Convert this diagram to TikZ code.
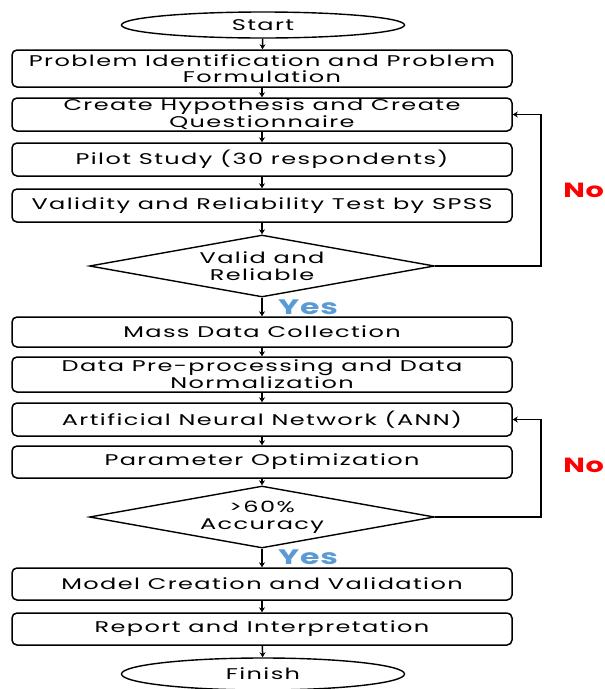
\documentclass[tikz,border=0pt]{standalone}
\usepackage{fontspec}
\setmainfont[LetterSpace=9,FakeStretch=1.55]{Poppins}
\newfontfamily\labfont[FakeStretch=1.5,LetterSpace=4]{Poppins}
\newfontfamily\nofont[FakeStretch=1.4,LetterSpace=3]{Poppins}
\usetikzlibrary{shapes.geometric,arrows.meta}
\definecolor{yesblue}{RGB}{91,155,213}
\definecolor{nored}{RGB}{255,0,0}
\tikzset{
  txt/.style={font=\fontsize{15.5}{15.5}\selectfont},
  stepbox/.style={draw, line width=1.5pt, rounded corners=5pt, minimum width=500pt, align=center, inner sep=0pt, txt},
  term/.style={draw, line width=1.4pt, ellipse, minimum width=283pt, inner sep=0pt, txt},
  decide/.style={draw, line width=1.4pt, diamond, shape aspect=5.5, minimum width=345pt, minimum height=62pt, inner sep=0pt, align=center, font=\fontsize{15.5}{17}\selectfont},
  arr/.style={line width=1.5pt, -{Stealth[length=5pt,width=6pt]}},
  yeslab/.style={font=\labfont\fontsize{21}{21}\bfseries\selectfont, text=yesblue, inner sep=0pt},
  nolab/.style={font=\nofont\fontsize{20.5}{20.5}\bfseries\selectfont, text=nored, inner sep=0pt, anchor=east}
}
\begin{document}
\begin{tikzpicture}[x=1pt,y=-1pt]
\useasboundingbox (0,0) rectangle (605,689);
\node[term, minimum height=26pt] (start) at (263,25) {Start};
\node[stepbox, minimum height=37pt] (b1) at (262,68.5) {Problem Identification and Problem\\Formulation};
\node[stepbox, minimum height=33pt] (b2) at (262,114.5) {Create Hypothesis and Create\\Questionnaire};
\node[stepbox, minimum height=33pt] (b3) at (262,159.5) {Pilot Study (30 respondents)};
\node[stepbox, minimum height=33pt] (b4) at (262,205.5) {Validity and Reliability Test by SPSS};
\node[decide] (d1) at (262,266) {Valid and\\Reliable};
\node[stepbox, minimum height=30pt] (b5) at (262,332) {Mass Data Collection};
\node[stepbox, minimum height=35pt] (b6) at (262,374.5) {Data Pre-processing and Data\\Normalization};
\node[stepbox, minimum height=33pt] (b7) at (262,419.5) {Artificial Neural Network (ANN)};
\node[stepbox, minimum height=32pt] (b8) at (262,462) {Parameter Optimization};
\node[decide] (d2) at (262,517) {>60\%\\Accuracy};
\node[stepbox, minimum height=32pt] (b9) at (262,584) {Model Creation and Validation};
\node[stepbox, minimum height=32pt] (b10) at (262,629) {Report and Interpretation};
\node[term, minimum height=32pt] (finish) at (263,674) {Finish};

\draw[arr] (start) -- (b1);
\draw[arr] (b1) -- (b2);
\draw[arr] (b2) -- (b3);
\draw[arr] (b3) -- (b4);
\draw[arr] (b4) -- (d1);
\draw[arr] (d1) -- (b5);
\draw[arr] (b5) -- (b6);
\draw[arr] (b6) -- (b7);
\draw[arr] (b7) -- (b8);
\draw[arr] (b8) -- (d2);
\draw[arr] (d2) -- (b9);
\draw[arr] (b9) -- (b10);
\draw[arr] (b10) -- (finish);

\draw[arr] (d1.east) -- ++(106,0) |- (b2.east);
\draw[arr] (d2.east) -- ++(106,0) |- (b7.east);

\node[yeslab] (y1) at (308,307) {Yes};
\node[yeslab] (y2) at (308,557) {Yes};
\node[nolab] (n1) at (604,190) {No};
\node[nolab] (n2) at (604,465) {No};
\end{tikzpicture}
\end{document}
